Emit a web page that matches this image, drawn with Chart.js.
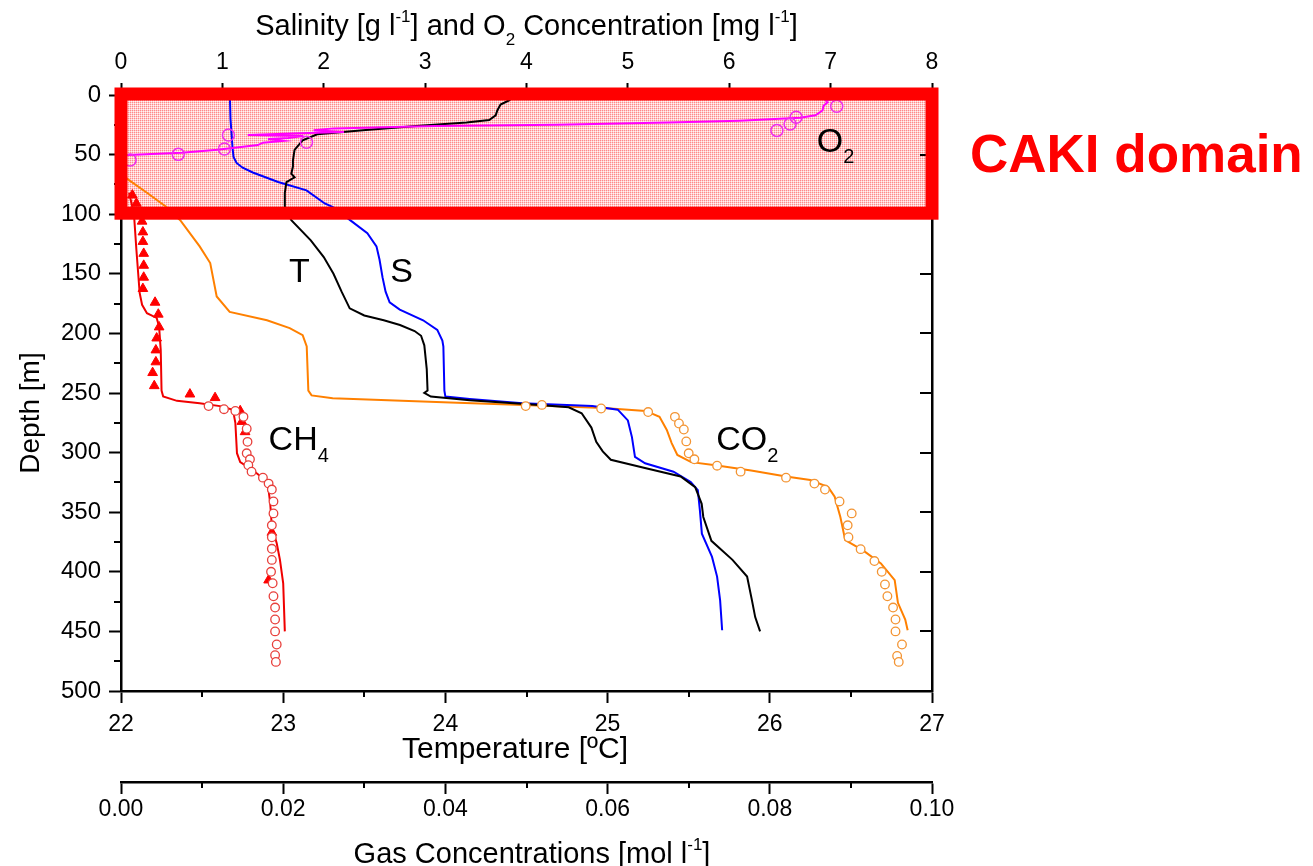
<!DOCTYPE html>
<html>
<head>
<meta charset="utf-8">
<title>Water column profiles</title>
<script src="https://cdn.jsdelivr.net/npm/chart.js@4.4.1/dist/chart.umd.min.js"></script>
<style>
  html, body { margin: 0; padding: 0; background: #ffffff; }
  #wrap { position: relative; width: 1313px; height: 866px; }
  canvas { display: block; }
</style>
</head>
<body>
<div id="wrap"><canvas id="c" width="1313" height="866"></canvas></div>
<script>
// ---- Temperature (°C) vs depth (m) ----
const tDepth = [4, 8, 13, 17, 21, 23, 26, 29.4, 33, 38, 46, 55, 60, 66, 69, 73, 82, 94, 105, 122, 136, 150, 165, 179, 185, 189, 193, 198, 202, 210, 230, 248, 250, 253, 256, 260, 262, 267, 279, 291, 299, 306, 313, 320, 329, 343, 354, 374, 390, 404, 424, 438, 450];
const tValue = [24.40, 24.34, 24.32, 24.31, 24.27, 24.13, 23.82, 23.51, 23.21, 23.12, 23.07, 23.06, 23.06, 23.05, 23.07, 23.02, 23.01, 23.01, 23.05, 23.17, 23.25, 23.31, 23.36, 23.41, 23.50, 23.62, 23.72, 23.81, 23.85, 23.87, 23.885, 23.89, 23.87, 23.91, 24.15, 24.58, 24.76, 24.84, 24.90, 24.93, 24.97, 25.02, 25.23, 25.45, 25.54, 25.58, 25.59, 25.64, 25.77, 25.86, 25.89, 25.91, 25.94];

// ---- Salinity (g/l) vs depth (m) ----
const sDepth = [4, 20, 32, 44, 52, 57, 61, 65, 73, 80, 91, 94, 105, 116, 127, 138, 153, 165, 174, 180, 189, 197, 206, 211, 248, 253, 255, 258.5, 261, 264, 273, 287, 303.6, 309, 316, 324.6, 331.5, 348, 368, 387.5, 404, 424, 449];
const sValue = [1.075, 1.08, 1.09, 1.10, 1.11, 1.14, 1.20, 1.30, 1.55, 1.83, 2.01, 2.09, 2.26, 2.43, 2.52, 2.55, 2.58, 2.61, 2.65, 2.75, 2.98, 3.12, 3.17, 3.18, 3.19, 3.20, 3.44, 3.96, 4.65, 4.90, 5.00, 5.04, 5.07, 5.17, 5.45, 5.62, 5.69, 5.71, 5.73, 5.83, 5.88, 5.91, 5.93];

// ---- Dissolved O2 (mg/l): continuous profile and discrete samples ----
const o2Depth = [2.5, 4.5, 6, 9, 13, 17, 19, 20, 21.5, 23, 25, 26, 28, 29.5, 31, 32.5, 33.6, 34.5, 36, 37, 38.5, 40, 42, 44.5, 46, 48.4, 50.4, 51];
const o2Value = [7.16, 6.95, 6.97, 6.93, 6.92, 6.85, 6.70, 6.50, 6.10, 5.40, 4.30, 3.10, 2.10, 1.90, 2.20, 1.60, 1.25, 1.80, 1.65, 1.45, 1.60, 1.40, 1.35, 1.10, 0.95, 0.60, 0.07, 0.0];
const o2SampleDepth = [9.5, 18.7, 24.3, 29.7, 33.6, 39.7, 45.3, 49.8, 54.6];
const o2SampleValue = [7.06, 6.66, 6.60, 6.47, 1.06, 1.83, 1.02, 0.565, 0.09];

// ---- CO2 (mol/l): modelled profile and measurements ----
const co2Depth = [66, 71, 82, 94, 105, 127, 141, 169, 182, 189, 195.6, 201.5, 211, 248, 252, 254.5, 258, 260, 262.5, 265, 270, 281, 292, 302, 308, 310.6, 315, 320, 323, 329, 337, 354, 373.5, 382, 393, 407, 426, 440, 449];
const co2Value = [0, 0.0009, 0.0032, 0.0056, 0.0073, 0.0097, 0.0110, 0.0118, 0.0134, 0.0180, 0.0208, 0.0224, 0.0229, 0.0231, 0.0235, 0.0261, 0.0406, 0.0496, 0.0595, 0.0647, 0.0664, 0.0673, 0.0679, 0.0686, 0.0703, 0.0733, 0.0777, 0.0820, 0.0850, 0.0872, 0.0880, 0.0887, 0.0893, 0.0915, 0.0937, 0.0954, 0.0958, 0.0967, 0.0970];
const co2SampleDepth = [261, 260, 263, 266, 270, 275.6, 280.6, 290.6, 300.6, 305.6, 311, 316, 321, 326, 331, 341, 351, 361, 371, 381, 391, 400, 410.6, 420.5, 430, 440, 450, 461, 470.6, 475.6];
const co2SampleValue = [0.0499, 0.0519, 0.0592, 0.0650, 0.0683, 0.0688, 0.0694, 0.0697, 0.0700, 0.0707, 0.0735, 0.0764, 0.0820, 0.0855, 0.0868, 0.0886, 0.0901, 0.0896, 0.0897, 0.0912, 0.0929, 0.0938, 0.0942, 0.0945, 0.0952, 0.0955, 0.0955, 0.0963, 0.0957, 0.0959];

// ---- CH4 (mol/l): modelled profile, two sets of measurements ----
const ch4Depth = [82, 100, 130, 166, 176, 183, 187, 194.5, 214, 248, 253, 256.6, 258.6, 261, 264, 275, 300.5, 308, 315, 321.6, 326, 342.6, 362, 376, 390, 409.6, 450];
const ch4Value = [0.0010, 0.0016, 0.0019, 0.0023, 0.0026, 0.0032, 0.0044, 0.0047, 0.0049, 0.0050, 0.0052, 0.0069, 0.0097, 0.0122, 0.0138, 0.0141, 0.0143, 0.0147, 0.0163, 0.0175, 0.0181, 0.0184, 0.0186, 0.0192, 0.0196, 0.0200, 0.0202];
const ch4TriDepth = [84, 91, 106, 115, 123, 133, 143, 153, 162.5, 174, 184, 194.7, 204, 214, 224, 233, 244, 251, 254, 265, 274, 282.6, 367, 407];
const ch4TriValue = [0.0014, 0.0019, 0.0026, 0.0027, 0.0027, 0.0028, 0.0028, 0.0028, 0.0027, 0.0042, 0.0046, 0.0047, 0.0044, 0.0043, 0.0043, 0.0039, 0.0041, 0.0085, 0.0116, 0.0147, 0.0149, 0.0153, 0.0186, 0.0182];
const ch4CircDepth = [261, 263.6, 265, 270, 280, 291, 300.6, 305.6, 310.6, 316, 321, 326, 331, 341, 351, 361, 371, 380.7, 390, 400, 409.6, 420.5, 430, 440, 450, 461, 470, 475.6];
const ch4CircValue = [0.0108, 0.0127, 0.0141, 0.0151, 0.0155, 0.0156, 0.0155, 0.0159, 0.0157, 0.0161, 0.0175, 0.0182, 0.0186, 0.0188, 0.0188, 0.0186, 0.0186, 0.0186, 0.0186, 0.0185, 0.0187, 0.0188, 0.0190, 0.0190, 0.0190, 0.0192, 0.0190, 0.0191];

// ---- Axis ranges / ticks ----
const depthRange = [0, 500];
const tempRange = [22, 27];
const salRange = [0, 8];
const gasRange = [0, 0.1];
const domainDepth = [0, 100];

const FONT = '"Liberation Sans", Arial, Helvetica, sans-serif';
const pts = (xs, ds) => xs.map((v, i) => ({ x: v, y: ds[i] }));

function lineSet(label, xs, ds, axis, color) {
  return {
    label, data: pts(xs, ds), xAxisID: axis, yAxisID: 'y',
    showLine: true, borderColor: color, borderWidth: 2, tension: 0,
    pointRadius: 0, pointHoverRadius: 0, fill: false
  };
}
function markSet(label, xs, ds, axis, style, color, bg, r, bw) {
  return {
    label, data: pts(xs, ds), xAxisID: axis, yAxisID: 'y', showLine: false,
    pointStyle: style, pointRadius: r, pointHoverRadius: r,
    pointBorderColor: color, pointBackgroundColor: bg, pointBorderWidth: bw, clip: false
  };
}

const xTickFont = { family: FONT, size: 23 };
const yTickFont = { family: FONT, size: 24 };
const axisBorder = { display: true, color: '#000', width: 2.5 };
const axisGrid = { drawOnChartArea: false, tickLength: 12, tickWidth: 2, tickColor: '#000' };

// helper: text with sub/superscripts
function drawRich(ctx, segs, x, y, size, align, subShift, supShift) {
  const fs = s => s.k ? Math.round(size * 0.6) : size;
  let total = 0;
  for (const s of segs) { ctx.font = fs(s) + 'px ' + FONT; total += ctx.measureText(s.t).width; }
  let cx = align === 'center' ? x - total / 2 : x;
  ctx.textAlign = 'left';
  ctx.textBaseline = 'alphabetic';
  for (const s of segs) {
    ctx.font = fs(s) + 'px ' + FONT;
    const dy = s.k === 'sup' ? -supShift : s.k === 'sub' ? subShift : 0;
    ctx.fillText(s.t, cx, y + dy);
    cx += ctx.measureText(s.t).width;
  }
}

// dotted halftone used to shade the domain box
function makeHatch() {
  const c = document.createElement('canvas');
  c.width = 2; c.height = 2;
  const g = c.getContext('2d');
  g.fillStyle = 'rgba(255,0,0,0.46)'; g.fillRect(0, 0, 1, 1);
  g.fillStyle = 'rgba(255,0,0,0.2)'; g.fillRect(1, 0, 1, 1); g.fillRect(0, 1, 1, 1);
  g.fillStyle = 'rgba(255,0,0,0.04)'; g.fillRect(1, 1, 1, 1);
  return c;
}

const decor = {
  id: 'decor',
  beforeDatasetsDraw(chart) {
    const { ctx, chartArea: a, scales } = chart;
    ctx.save();
    // shaded domain (under the profiles)
    const y0 = scales.y.getPixelForValue(domainDepth[0]);
    const y1 = scales.y.getPixelForValue(domainDepth[1]);
    ctx.fillStyle = ctx.createPattern(makeHatch(), 'repeat');
    ctx.fillRect(a.left, y0, a.right - a.left, y1 - y0);

    ctx.strokeStyle = '#000';
    ctx.lineWidth = 2;
    ctx.beginPath();
    // minor depth ticks (left, outward)
    for (let d = 25; d < 500; d += 50) {
      const py = Math.round(scales.y.getPixelForValue(d));
      ctx.moveTo(a.left - 7, py); ctx.lineTo(a.left, py);
    }
    // major depth ticks on the right frame (inward)
    for (let d = 50; d < 500; d += 50) {
      const py = Math.round(scales.y.getPixelForValue(d));
      ctx.moveTo(a.right - 12, py); ctx.lineTo(a.right, py);
    }
    // minor temperature ticks
    for (let t = 22.5; t < 27; t += 1) {
      const px = Math.round(scales.xT.getPixelForValue(t));
      ctx.moveTo(px, a.bottom); ctx.lineTo(px, a.bottom + 6);
    }
    // minor gas ticks
    const gTop = scales.xG.top;
    for (let g = 0.01; g < 0.1; g += 0.02) {
      const px = Math.round(scales.xG.getPixelForValue(g));
      ctx.moveTo(px, gTop); ctx.lineTo(px, gTop + 6);
    }
    ctx.stroke();
    ctx.restore();
  },
  afterDatasetsDraw(chart) {
    const { ctx, chartArea: a, scales } = chart;
    const y0 = scales.y.getPixelForValue(domainDepth[0]);
    const y1 = scales.y.getPixelForValue(domainDepth[1]);
    ctx.save();
    ctx.strokeStyle = '#ff0000';
    ctx.lineWidth = 13;
    ctx.strokeRect(a.left, y0 - 1, a.right - a.left, y1 - y0);
    ctx.restore();

    // curve labels
    ctx.save();
    ctx.fillStyle = '#000';
    const X = v => scales.xT.getPixelForValue(v);
    const Y = v => scales.y.getPixelForValue(v);
    drawRich(ctx, [{ t: 'T' }], X(23.035), Y(157), 34, 'left', 12, 0);
    drawRich(ctx, [{ t: 'S' }], X(23.66), Y(157), 34, 'left', 12, 0);
    drawRich(ctx, [{ t: 'CH' }, { t: '4', k: 'sub' }], X(22.91), Y(298), 34, 'left', 12, 0);
    drawRich(ctx, [{ t: 'CO' }, { t: '2', k: 'sub' }], X(25.67), Y(298), 34, 'left', 12, 0);
    drawRich(ctx, [{ t: 'O' }, { t: '2', k: 'sub' }], X(26.29), Y(47.8), 34, 'left', 11, 0);
    ctx.restore();
  },
  afterDraw(chart) {
    const { ctx, chartArea: a } = chart;
    ctx.save();
    ctx.fillStyle = '#000';
    // top axis title
    drawRich(ctx, [
      { t: 'Salinity [g l' }, { t: '-1', k: 'sup' }, { t: '] and O' }, { t: '2', k: 'sub' },
      { t: ' Concentration [mg l' }, { t: '-1', k: 'sup' }, { t: ']' }
    ], (a.left + a.right) / 2, 35, 29, 'center', 10, 13);
    // temperature axis title
    drawRich(ctx, [{ t: 'Temperature [\u00BAC]' }], a.left + 394, 758, 30, 'center', 0, 0);
    // gas axis title
    drawRich(ctx, [{ t: 'Gas Concentrations [mol l' }, { t: '-1', k: 'sup' }, { t: ']' }],
      a.left + 411, 863, 29, 'center', 0, 13);
    // depth axis title
    ctx.translate(31, (a.top + a.bottom) / 2 + 20);
    ctx.rotate(-Math.PI / 2);
    ctx.font = '28px ' + FONT;
    ctx.textAlign = 'center';
    ctx.textBaseline = 'middle';
    ctx.fillText('Depth [m]', 0, 0);
    ctx.restore();

    // domain label
    ctx.save();
    ctx.fillStyle = '#ff0000';
    ctx.font = 'bold 53px ' + FONT;
    ctx.textAlign = 'left';
    ctx.textBaseline = 'alphabetic';
    ctx.fillText('CAKI domain', a.right + 38, 172);
    ctx.restore();
  }
};

new Chart(document.getElementById('c'), {
  type: 'scatter',
  data: {
    datasets: [
      markSet('O2 samples', o2SampleValue, o2SampleDepth, 'xS', 'circle', '#ee2cee', 'rgba(0,0,0,0)', 6, 1.5),
      markSet('CO2 measured', co2SampleValue, co2SampleDepth, 'xG', 'circle', '#f39433', '#ffffff', 4.3, 1.3),
      markSet('CH4 measured', ch4CircValue, ch4CircDepth, 'xG', 'circle', '#e8403c', '#ffffff', 4.3, 1.3),
      markSet('CH4 measured (2)', ch4TriValue, ch4TriDepth, 'xG', 'triangle', '#ff0000', '#ff0000', 5.6, 1),
      lineSet('O2', o2Value, o2Depth, 'xS', '#ff00ff'),
      lineSet('T', tValue, tDepth, 'xT', '#000000'),
      lineSet('S', sValue, sDepth, 'xS', '#0000ff'),
      lineSet('CO2', co2Value, co2Depth, 'xG', '#ff8000'),
      lineSet('CH4', ch4Value, ch4Depth, 'xG', '#f00000')
    ]
  },
  options: {
    responsive: false,
    animation: false,
    events: [],
    layout: { padding: { left: 0, right: 381, top: 0, bottom: 0 } },
    plugins: { legend: { display: false }, tooltip: { enabled: false } },
    scales: {
      y: {
        type: 'linear', position: 'left', reverse: true,
        min: depthRange[0], max: depthRange[1],
        ticks: { stepSize: 50, font: yTickFont, color: '#000', padding: 8 },
        grid: axisGrid, border: axisBorder,
        afterFit: s => { s.width = 121; }
      },
      yR: {
        type: 'linear', position: 'right', reverse: true,
        min: depthRange[0], max: depthRange[1],
        ticks: { display: false }, grid: { display: false, drawTicks: false },
        border: axisBorder,
        afterFit: s => { s.width = 0; }
      },
      xS: {
        type: 'linear', position: 'top', min: salRange[0], max: salRange[1],
        ticks: { stepSize: 1, font: xTickFont, color: '#000', padding: 7 },
        grid: axisGrid, border: axisBorder,
        afterFit: s => { s.height = 95; }
      },
      xT: {
        type: 'linear', position: 'bottom', weight: 0, min: tempRange[0], max: tempRange[1],
        ticks: { stepSize: 1, font: xTickFont, color: '#000', padding: 8 },
        grid: axisGrid, border: axisBorder,
        afterFit: s => { s.height = 91; }
      },
      xG: {
        type: 'linear', position: 'bottom', weight: 1, min: gasRange[0], max: gasRange[1],
        ticks: { stepSize: 0.02, font: xTickFont, color: '#000', padding: 2, callback: v => Number(v).toFixed(2) },
        grid: axisGrid, border: axisBorder,
        afterFit: s => { s.height = 84; }
      }
    }
  },
  plugins: [decor]
});
</script>
</body>
</html>
